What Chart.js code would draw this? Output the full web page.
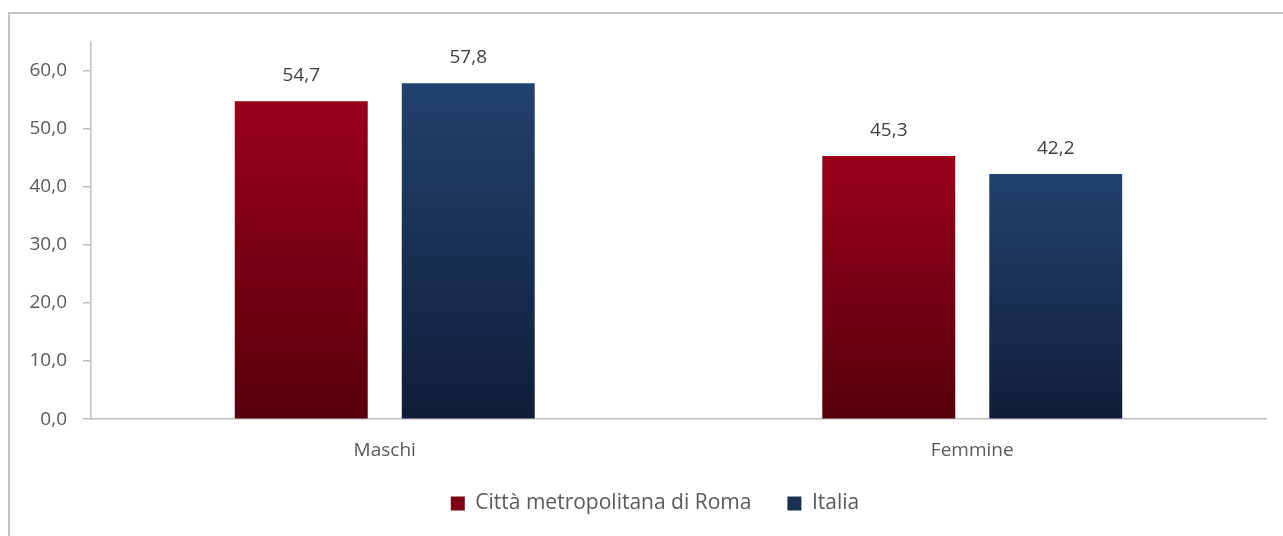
<!DOCTYPE html>
<html lang="it">
<head>
    <meta charset="UTF-8">
    <title>Maschi e Femmine - Città metropolitana di Roma e Italia</title>
    <script src="https://cdn.jsdelivr.net/npm/chart.js"></script>
    <style>
        html, body {
            margin: 0;
            padding: 0;
            background: #ffffff;
            overflow: hidden;
        }
        /* chart frame, right and bottom edges fall outside the window */
        #frame {
            position: absolute;
            left: 8px;
            top: 12px;
            width: 1300px;
            height: 560px;
            border-left: 2px solid #c4c4c4;
            border-top: 2px solid #c4c4c4;
        }
    </style>
</head>
<body>
    <div id="frame">
        <canvas id="barChart" width="1290" height="552"></canvas>
    </div>

    <script>
        // Data
        const categories = ['Maschi', 'Femmine'];
        const romaValues = [54.7, 45.3];
        const italiaValues = [57.8, 42.2];
        const yTicks = [0, 10, 20, 30, 40, 50, 60];

        const fontFamily = '"Open Sans", "Noto Sans", sans-serif';

        function fmt(v) {
            return v.toFixed(1).replace('.', ',');
        }

        // vertical gradient for every single bar, from its top to the base line
        function barGradient(top, bottom) {
            return function (context) {
                const chart = context.chart;
                const y = chart.scales.y;
                if (!chart.chartArea || !y || context.type !== 'data') return bottom;
                const g = chart.ctx.createLinearGradient(0, y.getPixelForValue(context.raw), 0, y.getPixelForValue(0));
                g.addColorStop(0, top);
                g.addColorStop(1, bottom);
                return g;
            };
        }

        // values written above the bars
        const valueLabels = {
            id: 'valueLabels',
            afterDatasetsDraw(chart) {
                const ctx = chart.ctx;
                ctx.save();
                ctx.font = '19px ' + fontFamily;
                ctx.fillStyle = '#404040';
                ctx.textAlign = 'center';
                ctx.textBaseline = 'alphabetic';
                chart.data.datasets.forEach((ds, i) => {
                    chart.getDatasetMeta(i).data.forEach((bar, j) => {
                        ctx.fillText(fmt(ds.data[j]), bar.x, bar.y - 20);
                    });
                });
                ctx.restore();
            }
        };

        // move the legend up closer to the axis labels and centre it on the frame
        const legendShift = {
            id: 'legendShift',
            afterLayout(chart) {
                const lg = chart.legend;
                lg.top -= 17;
                lg.bottom -= 17;
                lg.left += 17;
                lg.right += 17;
            }
        };

        const legendColors = ['#7c0012', '#1a3152'];

        let ctx = document.getElementById('barChart').getContext('2d');
        let barChart = new Chart(ctx, {
            type: 'bar',
            data: {
                labels: categories,
                datasets: [
                    {
                        label: 'Città metropolitana di Roma',
                        data: romaValues,
                        backgroundColor: barGradient('#99001a', '#57000b'),
                        borderWidth: 0,
                        categoryPercentage: 0.5685,
                        barPercentage: 0.796
                    },
                    {
                        label: 'Italia',
                        data: italiaValues,
                        backgroundColor: barGradient('#22416e', '#0f1e38'),
                        borderWidth: 0,
                        categoryPercentage: 0.5685,
                        barPercentage: 0.796
                    }
                ]
            },
            options: {
                responsive: false,
                animation: false,
                layout: {
                    padding: { left: 0, right: 34, top: 27, bottom: 25 }
                },
                scales: {
                    x: {
                        grid: { display: false },
                        border: { display: true, color: '#bfbfbf', width: 1.5 },
                        ticks: {
                            color: '#595959',
                            padding: 12,
                            font: { family: fontFamily, size: 19 }
                        }
                    },
                    y: {
                        min: 0,
                        max: 65,
                        afterBuildTicks: (scale) => {
                            scale.ticks = yTicks.map(v => ({ value: v }));
                        },
                        afterFit: (scale) => {
                            scale.width = 81;
                        },
                        grid: {
                            drawOnChartArea: false,
                            tickLength: 8,
                            color: '#bfbfbf',
                            lineWidth: 1.5
                        },
                        border: { display: true, color: '#bfbfbf', width: 1.5 },
                        ticks: {
                            color: '#595959',
                            padding: 16,
                            font: { family: fontFamily, size: 19 },
                            callback: (value) => fmt(value)
                        }
                    }
                },
                plugins: {
                    legend: {
                        position: 'bottom',
                        labels: {
                            boxWidth: 14,
                            boxHeight: 14,
                            padding: 36,
                            color: '#595959',
                            font: { family: fontFamily, size: 21 },
                            generateLabels: (chart) => {
                                const items = Chart.defaults.plugins.legend.labels.generateLabels(chart);
                                items.forEach((item, i) => {
                                    item.fillStyle = legendColors[i];
                                    item.strokeStyle = legendColors[i];
                                    item.lineWidth = 0;
                                });
                                return items;
                            }
                        }
                    },
                    tooltip: { enabled: false }
                }
            },
            plugins: [valueLabels, legendShift]
        });
    </script>
</body>
</html>
